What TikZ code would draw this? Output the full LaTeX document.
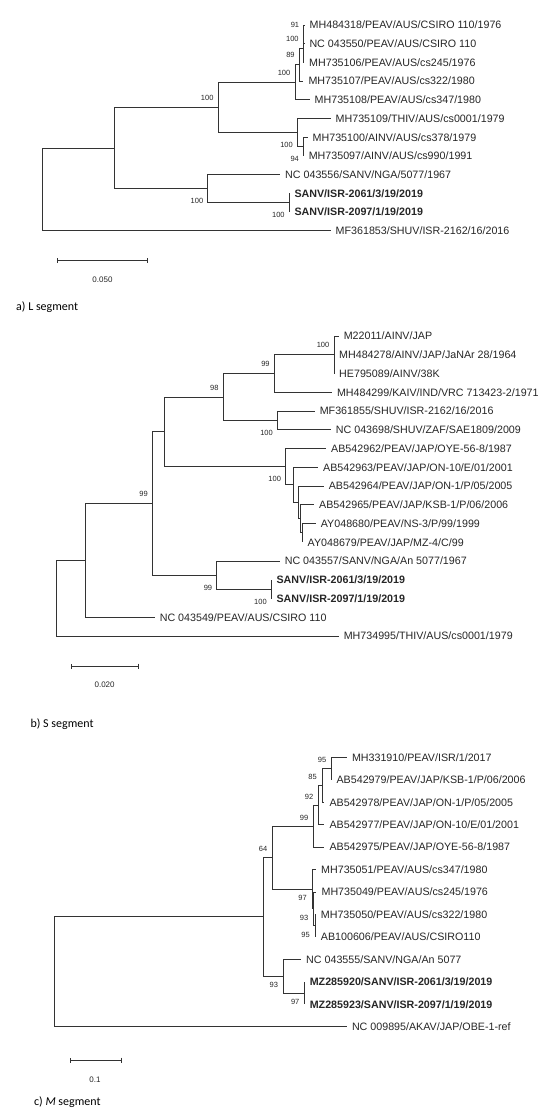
\documentclass[tikz,border=0pt]{standalone}
\usepackage{fontspec}
\setmainfont{Liberation Sans}
\newfontfamily\capfont{Carlito}
\usetikzlibrary{arrows.meta}
\newcommand{\leaffont}{\fontsize{10.7}{12}\selectfont}

\begin{document}
\begin{tikzpicture}[
  x=1pt, y=-1pt,
  br/.style={draw=black!80, line width=0.9pt},
  leaf/.style={anchor=west, inner xsep=5pt, inner ysep=0pt, text height=7.6pt, text depth=0pt, font=\leaffont, text=black!85},
  hit/.style={leaf, font=\leaffont\bfseries},
  bs/.style={anchor=east, inner sep=0pt, font=\fontsize{7.5}{9}\selectfont, text=black!85},
  bsup/.style={bs, shift={(-4.5pt,9.5pt)}},
  bsdn/.style={bs, shift={(-4.5pt,-12.5pt)}},
  sbar/.style={draw=black!80, line width=0.8pt, {Bar[width=5pt]}-{Bar[width=5pt]}},
  slab/.style={font=\fontsize{8}{10}\selectfont, inner sep=0pt, text=black!85},
  panel/.style={anchor=west, inner sep=0pt, font=\capfont\fontsize{12}{14}\selectfont}
]
\useasboundingbox (0,0) rectangle (558,1119);

% a) L segment
\coordinate (aR) at (42.9,189.35);
\coordinate (aA) at (114.3,148);
\coordinate (aB) at (218.2,107.4);
\coordinate (aC) at (207.9,188.6);
\coordinate (aD) at (289.3,202.65);
\coordinate (aE) at (295,82.3);
\coordinate (aF) at (299.3,64.75);
\coordinate (aG) at (303.3,48.4);
\coordinate (aH) at (303.8,34.35);
\coordinate (aI) at (297.5,132.5);
\coordinate (aJ) at (303.6,146.55);
\node[leaf] (a1) at (304.5,25) {MH484318/PEAV/AUS/CSIRO 110/1976};
\node[leaf] (a2) at (304.3,43.7) {NC 043550/PEAV/AUS/CSIRO 110};
\node[leaf] (a3) at (304,62.4) {MH735106/PEAV/AUS/cs245/1976};
\node[leaf] (a4) at (303.3,81.1) {MH735107/PEAV/AUS/cs322/1980};
\node[leaf] (a5) at (309.5,99.8) {MH735108/PEAV/AUS/cs347/1980};
\node[leaf] (a6) at (330.5,118.5) {MH735109/THIV/AUS/cs0001/1979};
\node[leaf] (a7) at (307.5,137.2) {MH735100/AINV/AUS/cs378/1979};
\node[leaf] (a8) at (303.6,155.9) {MH735097/AINV/AUS/cs990/1991};
\node[leaf] (a9) at (280,174.6) {NC 043556/SANV/NGA/5077/1967};
\node[hit] (a10) at (289.3,193.3) {SANV/ISR-2061/3/19/2019};
\node[hit] (a11) at (289.3,212) {SANV/ISR-2097/1/19/2019};
\node[leaf] (a12) at (330.5,230.7) {MF361853/SHUV/ISR-2162/16/2016};
\draw[br] (aR) |- (aA) (aR) |- (a12.west)
  (aA) |- (aB) (aA) |- (aC)
  (aB) |- (aE) (aB) |- (aI)
  (aE) |- (aF) (aE) |- (a5.west)
  (aF) |- (aG) (aF) |- (a4.west)
  (aG) |- (aH) (aG) |- (a3.west)
  (aH) |- (a1.west) (aH) |- (a2.west)
  (aI) |- (a6.west) (aI) |- (aJ)
  (aJ) |- (a7.west) (aJ) |- (a8.west)
  (aC) |- (a9.west) (aC) |- (aD)
  (aD) |- (a10.west) (aD) |- (a11.west);
\node[bsup] (aLH) at (aH) {91};
\node[bsup] (aLG) at (aG) {100};
\node[bsup] (aLF) at (aF) {89};
\node[bsup] (aLE) at (aE) {100};
\node[bsup] (aLB) at (aB) {100};
\node[bsdn] (aLI) at (aI) {100};
\node[bsdn] (aLJ) at (aJ) {94};
\node[bsdn] (aLC) at (aC) {100};
\node[bsdn] (aLD) at (aD) {100};
\coordinate (aS1) at (57,260.7);
\coordinate (aS2) at (147.5,260.7);
\draw[sbar] (aS1) -- (aS2);
\node[slab] (aSL) at (102.5,280) {0.050};
\node[panel] (aP) at (16,307.3) {a) L segment};

% b) S segment
\coordinate (bR) at (56,598.15);
\coordinate (bA) at (85.7,560.3);
\coordinate (bB) at (152.5,503.4);
\coordinate (bC) at (164.3,431.8);
\coordinate (bD) at (223.2,396.95);
\coordinate (bE) at (274.3,373.5);
\coordinate (bF) at (277.5,420.4);
\coordinate (bG) at (334,354.75);
\coordinate (bP1) at (285.7,466.65);
\coordinate (bP2) at (293.3,484.8);
\coordinate (bP3) at (298.3,502.4);
\coordinate (bP4) at (300.7,518.8);
\coordinate (bP5) at (302.5,532.9);
\coordinate (bS) at (216.8,575.05);
\coordinate (bU) at (271.4,589.1);
\node[leaf] (b1) at (338.6,336) {M22011/AINV/JAP};
\node[leaf] (b2) at (334,354.75) {MH484278/AINV/JAP/JaNAr 28/1964};
\node[leaf] (b3) at (334,373.5) {HE795089/AINV/38K};
\node[leaf] (b4) at (331.8,392.25) {MH484299/KAIV/IND/VRC 713423-2/1971};
\node[leaf] (b5) at (314.6,411) {MF361855/SHUV/ISR-2162/16/2016};
\node[leaf] (b6) at (330.7,429.75) {NC 043698/SHUV/ZAF/SAE1809/2009};
\node[leaf] (b7) at (326,448.5) {AB542962/PEAV/JAP/OYE-56-8/1987};
\node[leaf] (b8) at (318,467.25) {AB542963/PEAV/JAP/ON-10/E/01/2001};
\node[leaf] (b9) at (323.6,486) {AB542964/PEAV/JAP/ON-1/P/05/2005};
\node[leaf] (b10) at (314,504.75) {AB542965/PEAV/JAP/KSB-1/P/06/2006};
\node[leaf] (b11) at (315.7,523.5) {AY048680/PEAV/NS-3/P/99/1999};
\node[leaf] (b12) at (302.5,542.25) {AY048679/PEAV/JAP/MZ-4/C/99};
\node[leaf] (b13) at (279.6,561) {NC 043557/SANV/NGA/An 5077/1967};
\node[hit] (b14) at (271.4,579.75) {SANV/ISR-2061/3/19/2019};
\node[hit] (b15) at (271.4,598.5) {SANV/ISR-2097/1/19/2019};
\node[leaf] (b16) at (154.6,617.25) {NC 043549/PEAV/AUS/CSIRO 110};
\node[leaf] (b17) at (338.6,636) {MH734995/THIV/AUS/cs0001/1979};
\draw[br] (bR) |- (bA) (bR) |- (b17.west)
  (bA) |- (bB) (bA) |- (b16.west)
  (bB) |- (bC) (bB) |- (bS)
  (bC) |- (bD) (bC) |- (bP1)
  (bD) |- (bE) (bD) |- (bF)
  (bE) |- (bG) (bE) |- (b4.west)
  (bG) |- (b1.west) (bG) |- (b2.west) (bG) |- (b3.west)
  (bF) |- (b5.west) (bF) |- (b6.west)
  (bP1) |- (b7.west) (bP1) |- (bP2)
  (bP2) |- (b8.west) (bP2) |- (bP3)
  (bP3) |- (b9.west) (bP3) |- (bP4)
  (bP4) |- (b10.west) (bP4) |- (bP5)
  (bP5) |- (b11.west) (bP5) |- (b12.west)
  (bS) |- (b13.west) (bS) |- (bU)
  (bU) |- (b14.west) (bU) |- (b15.west);
\node[bsup] (bLG) at (bG) {100};
\node[bsup] (bLE) at (bE) {99};
\node[bsdn] (bLF) at (bF) {100};
\node[bsup] (bLD) at (bD) {98};
\node[bsdn] (bLP) at (bP1) {100};
\node[bsup] (bLB) at (bB) {99};
\node[bsdn] (bLS) at (bS) {99};
\node[bsdn] (bLU) at (bU) {100};
\coordinate (bS1) at (71.4,666);
\coordinate (bS2) at (138.6,666);
\draw[sbar] (bS1) -- (bS2);
\node[slab] (bSL) at (104.6,684.3) {0.020};
\node[panel] (bPn) at (30.4,724) {b) S segment};

% c) M segment
\begin{scope}[bsup/.style={bs, shift={(-5pt,8.5pt)}}, bsdn/.style={bs, shift={(-5pt,-9pt)}}]
\coordinate (cR) at (54.6,971.8);
\coordinate (cA) at (263.2,916.9);
\coordinate (cB) at (272.5,857.6);
\coordinate (cN1) at (313.5,826.05);
\coordinate (cN2) at (318.5,805);
\coordinate (cN3) at (322,785.35);
\coordinate (cN4) at (331.4,768.5);
\coordinate (cM1) at (312,889.2);
\coordinate (cM2) at (313.5,908.85);
\coordinate (cM3) at (315,925.7);
\coordinate (cS) at (283.2,976.2);
\coordinate (cU) at (304.6,993);
\node[leaf] (c1) at (346.8,757.3) {MH331910/PEAV/ISR/1/2017};
\node[leaf] (c2) at (331.4,779.75) {AB542979/PEAV/JAP/KSB-1/P/06/2006};
\node[leaf] (c3) at (324.3,802.2) {AB542978/PEAV/JAP/ON-1/P/05/2005};
\node[leaf] (c4) at (324.3,824.65) {AB542977/PEAV/JAP/ON-10/E/01/2001};
\node[leaf] (c5) at (324.3,847.1) {AB542975/PEAV/JAP/OYE-56-8/1987};
\node[leaf] (c6) at (316,869.55) {MH735051/PEAV/AUS/cs347/1980};
\node[leaf] (c7) at (316.4,892) {MH735049/PEAV/AUS/cs245/1976};
\node[leaf] (c8) at (315.7,914.45) {MH735050/PEAV/AUS/cs322/1980};
\node[leaf] (c9) at (315.7,936.9) {AB100606/PEAV/AUS/CSIRO110};
\node[leaf] (c10) at (301,959.35) {NC 043555/SANV/NGA/An 5077};
\node[hit] (c11) at (304.6,981.8) {MZ285920/SANV/ISR-2061/3/19/2019};
\node[hit] (c12) at (304.6,1004.25) {MZ285923/SANV/ISR-2097/1/19/2019};
\node[leaf] (c13) at (346.8,1026.7) {NC 009895/AKAV/JAP/OBE-1-ref};
\draw[br] (cR) |- (cA) (cR) |- (c13.west)
  (cA) |- (cB) (cA) |- (cS)
  (cB) |- (cN1) (cB) |- (cM1)
  (cN1) |- (cN2) (cN1) |- (c5.west)
  (cN2) |- (cN3) (cN2) |- (c4.west)
  (cN3) |- (cN4) (cN3) |- (c3.west)
  (cN4) |- (c1.west) (cN4) |- (c2.west)
  (cM1) |- (c6.west) (cM1) |- (cM2)
  (cM2) |- (c7.west) (cM2) |- (cM3)
  (cM3) |- (c8.west) (cM3) |- (c9.west)
  (cS) |- (c10.west) (cS) |- (cU)
  (cU) |- (c11.west) (cU) |- (c12.west);
\node[bsup] (cL4) at (cN4) {95};
\node[bsup] (cL3) at (cN3) {85};
\node[bsup] (cL2) at (cN2) {92};
\node[bsup] (cL1) at (cN1) {99};
\node[bsup] (cLB) at (cB) {64};
\node[bsdn] (cLM1) at (cM1) {97};
\node[bsdn] (cLM2) at (cM2) {93};
\node[bsdn] (cLM3) at (cM3) {95};
\node[bsdn] (cLS) at (cS) {93};
\node[bsdn] (cLU) at (cU) {97};
\coordinate (cS1) at (70.4,1060);
\coordinate (cS2) at (121.4,1060);
\draw[sbar] (cS1) -- (cS2);
\node[slab] (cSL) at (95,1080) {0.1};
\node[panel] (cPn) at (33.9,1102.3) {c) \textit{M} segment};
\end{scope}
\end{tikzpicture}
\end{document}
